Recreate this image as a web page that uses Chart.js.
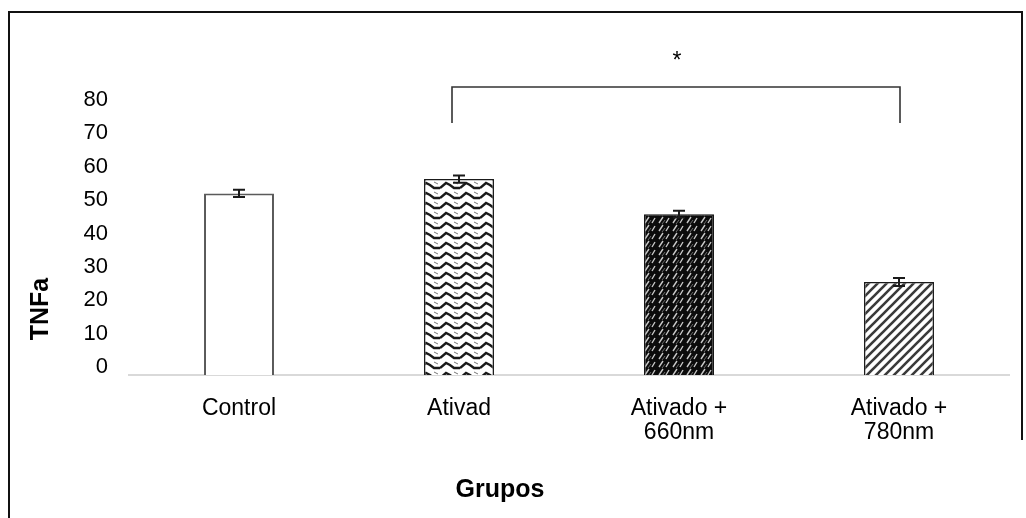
<!DOCTYPE html>
<html>
<head>
<meta charset="utf-8">
<script src="https://cdn.jsdelivr.net/npm/chart.js@4/dist/chart.umd.min.js"></script>
<style>
  html, body { margin: 0; padding: 0; background: #fff; }
  #wrap { width: 1026px; height: 518px; position: relative; }
</style>
</head>
<body>
<div id="wrap"><canvas id="chart" width="1026" height="518"></canvas></div>
<script>
// data
const groups = ['Control', 'Ativad', ['Ativado +', '660nm'], ['Ativado +', '780nm']];
const tnfValues = [54.4, 58.7, 48.2, 27.9];
const tnfErrors = [1.1, 1.1, 1.0, 1.2];
const yTicks = [0, 10, 20, 30, 40, 50, 60, 70, 80];
const yLabel = 'TNFa';
const xLabel = 'Grupos';
const signifFrom = 1, signifTo = 3, signifMark = '*';

const FONT = '"Liberation Sans", Arial, sans-serif';

// fill patterns for the bars
function makePattern(w, h, draw) {
    const c = document.createElement('canvas');
    c.width = w; c.height = h;
    const g = c.getContext('2d');
    draw(g, w, h);
    return c.getContext('2d').createPattern(c, 'repeat');
}

const wavePattern = makePattern(20, 10, (g, w, h) => {
    g.fillStyle = '#fff'; g.fillRect(0, 0, w, h);
    g.strokeStyle = '#1a1a1a'; g.lineWidth = 2.4;
    g.beginPath();
    g.moveTo(0, 8); g.lineTo(6, 3); g.lineTo(10, 5); g.lineTo(14, 8); g.lineTo(20, 8);
    g.stroke();
    g.strokeStyle = '#777'; g.lineWidth = 1;
    g.beginPath();
    g.moveTo(14, 2); g.lineTo(18, 4);
    g.stroke();
});

const darkPattern = makePattern(14, 8, (g, w, h) => {
    g.fillStyle = '#0b0b0b'; g.fillRect(0, 0, w, h);
    g.strokeStyle = '#c8c8c8'; g.lineWidth = 1.4;
    g.beginPath();
    g.moveTo(1, 7); g.lineTo(5, 1);
    g.moveTo(8, 7); g.lineTo(11, 2);
    g.stroke();
    g.strokeStyle = '#6a6a6a'; g.lineWidth = 1;
    g.beginPath();
    g.moveTo(4, 8); g.lineTo(7, 4);
    g.stroke();
});

const stripePattern = makePattern(9, 9, (g, w, h) => {
    g.fillStyle = '#fff'; g.fillRect(0, 0, w, h);
    g.strokeStyle = '#3a3a3a'; g.lineWidth = 2.6;
    g.beginPath();
    g.moveTo(-2, 11); g.lineTo(11, -2);
    g.moveTo(-2, 2); g.lineTo(2, -2);
    g.moveTo(7, 11); g.lineTo(11, 7);
    g.stroke();
});

const errorBars = {
    id: 'errorBars',
    afterDatasetsDraw(chart) {
        const ctx = chart.ctx;
        const meta = chart.getDatasetMeta(0);
        const y = chart.scales.y;
        ctx.save();
        ctx.strokeStyle = '#1a1a1a';
        ctx.lineWidth = 2;
        meta.data.forEach((bar, i) => {
            const top = y.getPixelForValue(tnfValues[i] + tnfErrors[i]);
            const bot = y.getPixelForValue(tnfValues[i] - tnfErrors[i]);
            ctx.beginPath();
            ctx.moveTo(bar.x, top); ctx.lineTo(bar.x, bot);
            ctx.moveTo(bar.x - 6, top); ctx.lineTo(bar.x + 6, top);
            ctx.moveTo(bar.x - 6, bot); ctx.lineTo(bar.x + 6, bot);
            ctx.stroke();
        });
        ctx.restore();
    }
};

const decorations = {
    id: 'decorations',
    afterDraw(chart) {
        const ctx = chart.ctx;
        const meta = chart.getDatasetMeta(0);
        ctx.save();
        // outer frame
        ctx.strokeStyle = '#111';
        ctx.lineWidth = 2;
        ctx.beginPath();
        ctx.moveTo(9, 518); ctx.lineTo(9, 12); ctx.lineTo(1022, 12); ctx.lineTo(1022, 440);
        ctx.stroke();

        // significance bracket
        const x1 = meta.data[signifFrom].x - 7;
        const x2 = meta.data[signifTo].x + 1;
        ctx.strokeStyle = '#333';
        ctx.lineWidth = 1.6;
        ctx.beginPath();
        ctx.moveTo(x1, 123); ctx.lineTo(x1, 87); ctx.lineTo(x2, 87); ctx.lineTo(x2, 123);
        ctx.stroke();
        ctx.fillStyle = '#000';
        ctx.font = '23px ' + FONT;
        ctx.textAlign = 'center';
        ctx.textBaseline = 'middle';
        ctx.fillText(signifMark, (x1 + x2) / 2 + 1, 62);

        // axis titles
        ctx.font = 'bold 25px ' + FONT;
        ctx.fillText(xLabel, 500, 490);
        ctx.translate(41, 309);
        ctx.rotate(-Math.PI / 2);
        ctx.fillText(yLabel, 0, 0);
        ctx.restore();
    }
};

new Chart(document.getElementById('chart'), {
    type: 'bar',
    data: {
        labels: groups,
        datasets: [{
            data: tnfValues,
            backgroundColor: ['#ffffff', wavePattern, darkPattern, stripePattern],
            borderColor: ['#5a5a5a', '#1a1a1a', '#111111', '#1a1a1a'],
            borderWidth: [2, 1.5, 1.5, 1.5],
            borderSkipped: 'bottom',
            barPercentage: 0.318,
            categoryPercentage: 1
        }]
    },
    options: {
        responsive: false,
        animation: false,
        devicePixelRatio: 1,
        layout: { padding: { top: 108, right: 17, left: 0, bottom: 0 } },
        plugins: {
            legend: { display: false },
            tooltip: { enabled: false }
        },
        scales: {
            x: {
                grid: { display: false, drawTicks: false },
                border: { display: true, color: '#d9d9d9', width: 2 },
                ticks: {
                    color: '#000',
                    font: { family: FONT, size: 23, lineHeight: 1.04 },
                    padding: 22,
                    maxRotation: 0,
                    autoSkip: false
                },
                afterFit(scale) { scale.height = 143; }
            },
            y: {
                min: 0,
                max: 80,
                afterBuildTicks(scale) { scale.ticks = yTicks.map(v => ({ value: v })); },
                grid: { display: false, drawTicks: false },
                border: { display: false },
                ticks: {
                    color: '#000',
                    font: { family: FONT, size: 22 },
                    padding: 21,
                    labelOffset: -8
                },
                afterFit(scale) { scale.width = 129; }
            }
        }
    },
    plugins: [errorBars, decorations]
});
</script>
</body>
</html>
